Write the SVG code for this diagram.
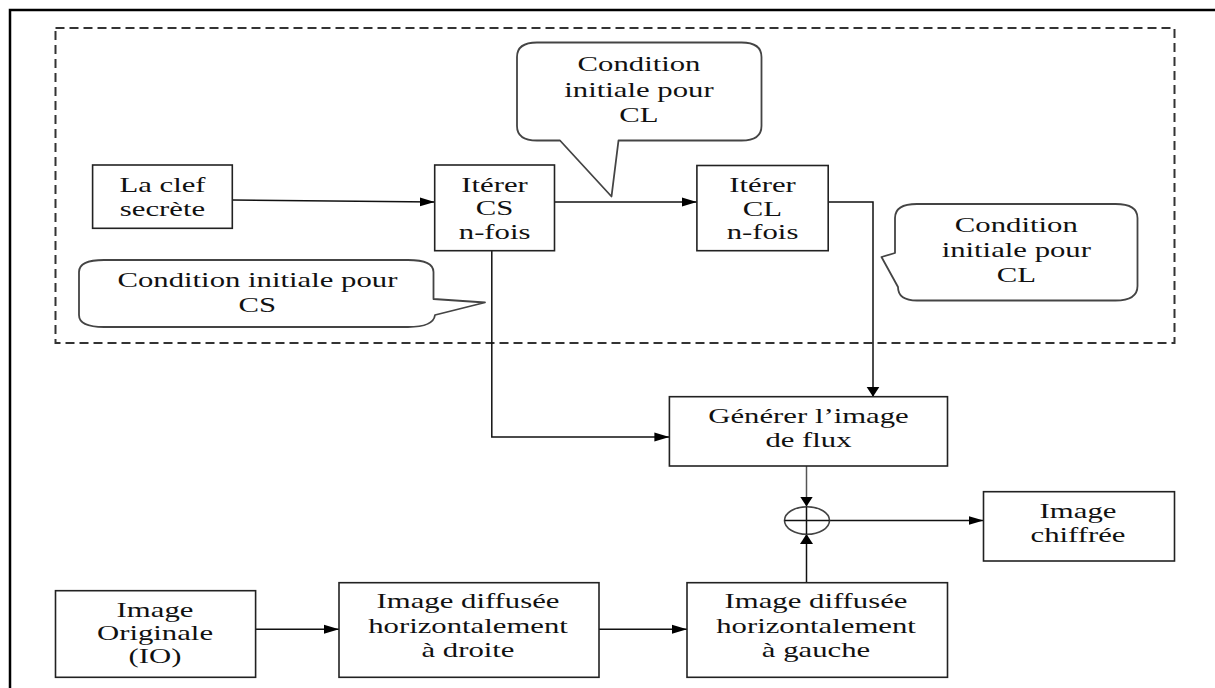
<svg xmlns="http://www.w3.org/2000/svg" width="1215" height="688" viewBox="0 0 1215 688">
<style>
.frame{fill:none;stroke:#000;stroke-width:2.5}
.dash{fill:none;stroke:#333;stroke-width:2;stroke-dasharray:9 5}
.box{fill:#fff;stroke:#222;stroke-width:1.6}
.call{fill:#fff;stroke:#444;stroke-width:1.8;stroke-linejoin:round}
.xor{fill:none;stroke:#444;stroke-width:1.6}
.line{fill:none;stroke:#111;stroke-width:1.5}
.t{font-family:"Liberation Serif","Times New Roman",serif;font-size:21px;fill:#111;text-anchor:middle}
</style>
<defs>
<marker id="ah" markerUnits="userSpaceOnUse" markerWidth="16" markerHeight="10" refX="15" refY="5" orient="auto" viewBox="0 0 16 10">
<path d="M0,0.5 L15,5 L0,9.5 Z" fill="#000"/>
</marker>
<marker id="av" markerUnits="userSpaceOnUse" markerWidth="11" markerHeight="14" refX="10" refY="7" orient="auto" viewBox="0 0 11 14">
<path d="M0,0.5 L10,7 L0,13.5 Z" fill="#000"/>
</marker>
</defs>
<rect width="1215" height="688" fill="#fff"/>
<path class="frame" d="M10,688 L10,10 L1215,10"/>
<rect class="dash" x="55.5" y="28" width="1119" height="315"/>

<g id="connectors">
<path class="line" d="M232.3,200 L434.7,202" marker-end="url(#ah)"/>
<path class="line" d="M554.5,202 L696.9,202" marker-end="url(#ah)"/>
<path class="line" d="M828.2,202 L873,202 L873,396.7" marker-end="url(#av)"/>
<path class="line" d="M491.8,250.7 L491.8,437 L669.4,437" marker-end="url(#ah)"/>
<path class="line" style="stroke:#555" d="M806.5,466 L806.5,506.5" marker-end="url(#av)"/>
<path class="line" d="M806.5,582.7 L806.5,534" marker-end="url(#av)"/>
<path class="line" d="M829.5,520.5 L983.5,520.5" marker-end="url(#ah)"/>
<path class="line" d="M255.6,629.3 L339,629.3" marker-end="url(#ah)"/>
<path class="line" d="M599,629.3 L687,629.3" marker-end="url(#ah)"/>
</g>

<g id="cle">
<rect class="box" x="92.6" y="165" width="139.7" height="63.3"/>
<text class="t" transform="matrix(1.464 0 0 1 162.5 191.7)">La clef</text>
<text class="t" transform="matrix(1.464 0 0 1 162.5 216)">secrète</text>
</g>

<g id="iter-cs">
<rect class="box" x="434.7" y="165" width="119.8" height="85.7"/>
<text class="t" transform="matrix(1.464 0 0 1 494.6 191.7)">Itérer</text>
<text class="t" transform="matrix(1.464 0 0 1 494.6 215.3)">CS</text>
<text class="t" transform="matrix(1.464 0 0 1 494.6 239.3)">n-fois</text>
</g>

<g id="iter-cl">
<rect class="box" x="696.9" y="165.5" width="131.3" height="85.2"/>
<text class="t" transform="matrix(1.464 0 0 1 762.5 191.7)">Itérer</text>
<text class="t" transform="matrix(1.464 0 0 1 762.5 215.7)">CL</text>
<text class="t" transform="matrix(1.464 0 0 1 762.5 239.3)">n-fois</text>
</g>

<g id="callout-cs">
<path class="call" d="M104,260 L408,260 Q433.5,260 433.5,272 L433.5,299 L485,302.5 L435,315 Q433.5,327 408,327 L104,327 Q79,327 79,315 L79,272 Q79,260 104,260 Z"/>
<text class="t" transform="matrix(1.464 0 0 1 257.4 287.3)">Condition initiale pour</text>
<text class="t" transform="matrix(1.464 0 0 1 257.4 312.3)">CS</text>
</g>

<g id="callout-cl-top">
<path class="call" d="M537,42.5 L741.5,42.5 Q761.5,42.5 761.5,57 L761.5,126 Q761.5,140.5 741.5,140.5 L618.5,140.5 L611.5,196.5 L560,140.5 L537,140.5 Q517,140.5 517,126 L517,57 Q517,42.5 537,42.5 Z"/>
<text class="t" transform="matrix(1.464 0 0 1 639 71)">Condition</text>
<text class="t" transform="matrix(1.464 0 0 1 639 96.7)">initiale pour</text>
<text class="t" transform="matrix(1.464 0 0 1 639 121.7)">CL</text>
</g>

<g id="callout-cl-right">
<path class="call" d="M917,204 L1115.5,204 Q1137.5,204 1137.5,218 L1137.5,286 Q1137.5,300.5 1115.5,300.5 L917,300.5 Q898,300.5 898,287 L881.5,257 L895,253 L895,218 Q895,204 917,204 Z"/>
<text class="t" transform="matrix(1.464 0 0 1 1016.3 231.7)">Condition</text>
<text class="t" transform="matrix(1.464 0 0 1 1016.3 256.7)">initiale pour</text>
<text class="t" transform="matrix(1.464 0 0 1 1016.3 281.7)">CL</text>
</g>

<g id="generer">
<rect class="box" x="669.4" y="396.7" width="278.1" height="69.3"/>
<text class="t" transform="matrix(1.464 0 0 1 808.5 422.7)">Générer l’image</text>
<text class="t" transform="matrix(1.464 0 0 1 808.5 447.3)">de flux</text>
</g>

<g id="xor">
<ellipse class="xor" cx="807" cy="520.5" rx="22.5" ry="13.8"/>
<path class="line" d="M784.5,520.5 L829.5,520.5 M806.5,506.7 L806.5,534.3"/>
</g>

<g id="chiffree">
<rect class="box" x="983.5" y="491.7" width="191" height="69.3"/>
<text class="t" transform="matrix(1.464 0 0 1 1078 518.3)">Image</text>
<text class="t" transform="matrix(1.464 0 0 1 1078 541.7)">chiffrée</text>
</g>

<g id="originale">
<rect class="box" x="55.5" y="590.7" width="200.1" height="86.6"/>
<text class="t" transform="matrix(1.464 0 0 1 155 616.7)">Image</text>
<text class="t" transform="matrix(1.464 0 0 1 155 640)">Originale</text>
<text class="t" transform="matrix(1.464 0 0 1 155 663.3)">(IO)</text>
</g>

<g id="droite">
<rect class="box" x="339" y="582.7" width="260" height="94.6"/>
<text class="t" transform="matrix(1.464 0 0 1 468 608.3)">Image diffusée</text>
<text class="t" transform="matrix(1.464 0 0 1 468 632.7)">horizontalement</text>
<text class="t" transform="matrix(1.464 0 0 1 468 657.3)">à droite</text>
</g>

<g id="gauche">
<rect class="box" x="687" y="582.7" width="260.5" height="94.6"/>
<text class="t" transform="matrix(1.464 0 0 1 816 608.3)">Image diffusée</text>
<text class="t" transform="matrix(1.464 0 0 1 816 632.7)">horizontalement</text>
<text class="t" transform="matrix(1.464 0 0 1 816 657.3)">à gauche</text>
</g>
</svg>
